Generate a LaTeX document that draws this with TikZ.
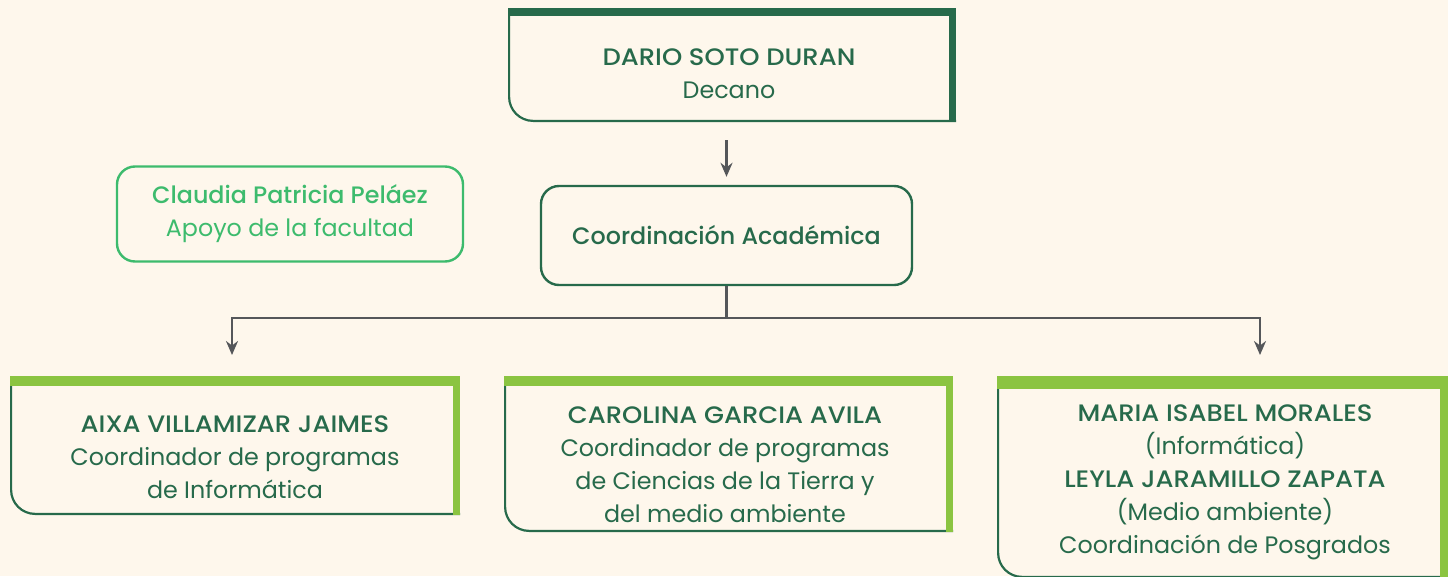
\documentclass[tikz,border=0pt]{standalone}
\usepackage{fontspec}
\setmainfont{Poppins}[BoldFont={Poppins Medium}]
\newfontfamily\capsname[FakeStretch=1.085]{Poppins Medium}
\usetikzlibrary{arrows.meta}
\definecolor{bg}{HTML}{FEF7EC}
\definecolor{dgreen}{HTML}{276A4B}
\definecolor{lime}{HTML}{8BC441}
\definecolor{lgreen}{HTML}{3DBB6D}
\definecolor{conn}{HTML}{55575A}
\newcommand\cardframe[4]{%
  \draw[dgreen, line width=2.2pt] ([xshift=1.1pt]#1.north west) [rounded corners=24pt] -- ([shift={(1.1pt,1.1pt)}]#1.south west) -- ([yshift=1.1pt]#1.south east);
  \fill[#2] (#1.north west) rectangle ([yshift=-#3]#1.north east);
  \fill[#2] ([xshift=-#4]#1.north east) rectangle (#1.south east);
}
\begin{document}
\begin{tikzpicture}[x=1pt,y=-1pt,
  card/.style={inner sep=0pt, outer sep=0pt, draw=none},
  txt/.style={align=center, text=dgreen, inner sep=0pt, font=\fontsize{23.8}{33}\selectfont},
  rbox/.style={draw=#1, line width=2.4pt, rounded corners=18pt, align=center, text=#1, inner sep=0pt, font=\fontsize{23.8}{33}\selectfont},
  conline/.style={draw=conn, line width=2.2pt},
  arr/.style={conline, -{Stealth[length=14pt,width=12pt]}}]
\useasboundingbox (0,0) rectangle (1448,576);
\fill[bg] (0,0) rectangle (1448,576);

% top card
\node[card, minimum width=448pt, minimum height=114pt] (dean) at (732,65) {};
\cardframe{dean}{dgreen}{8pt}{7pt}
\node[txt] (deantxt) at (729,73.5) {{\capsname DARIO SOTO DURAN}\\Decano};

% support box
\node[rbox=lgreen, minimum width=346pt, minimum height=95pt] (apoyo) at (290,214) {{\bfseries Claudia Patricia Peláez}\\Apoyo de la facultad};

% coordination
\node[rbox=dgreen, minimum width=371pt, minimum height=99pt] (coord) at (726.5,235.5) {{\bfseries Coordinación Académica}};

% bottom cards
\node[card, minimum width=450pt, minimum height=139pt] (a1) at (235,445.5) {};
\cardframe{a1}{lime}{10pt}{7pt}
\node[txt] (a1txt) at (235,457.5) {{\capsname AIXA VILLAMIZAR JAIMES}\\Coordinador de programas\\de Informática};

\node[card, minimum width=449pt, minimum height=156pt] (a2) at (728.5,454) {};
\cardframe{a2}{lime}{10pt}{7pt}
\node[txt] (a2txt) at (725,464.5) {{\capsname CAROLINA GARCIA AVILA}\\Coordinador de programas\\de Ciencias de la Tierra y\\del medio ambiente};

\node[card, minimum width=451pt, minimum height=202pt] (a3) at (1222.5,477) {};
\cardframe{a3}{lime}{13pt}{8pt}
\node[txt] (a3txt) at (1225,482) {{\capsname MARIA ISABEL MORALES}\\(Informática)\\{\capsname LEYLA JARAMILLO ZAPATA}\\(Medio ambiente)\\Coordinación de Posgrados};

% connectors
\draw[arr, shorten <=18pt, shorten >=8pt] (dean.south -| coord.north) -- (coord.north);
\coordinate (junc) at (726.5,318);
\coordinate (rtarget) at (1260,376);
\draw[conline] (coord.south) -- (junc);
\draw[arr, shorten >=21pt] (junc) -| ([xshift=-3pt]a1.north);
\draw[arr, shorten >=21pt] (junc) -| (rtarget);
\end{tikzpicture}
\end{document}
